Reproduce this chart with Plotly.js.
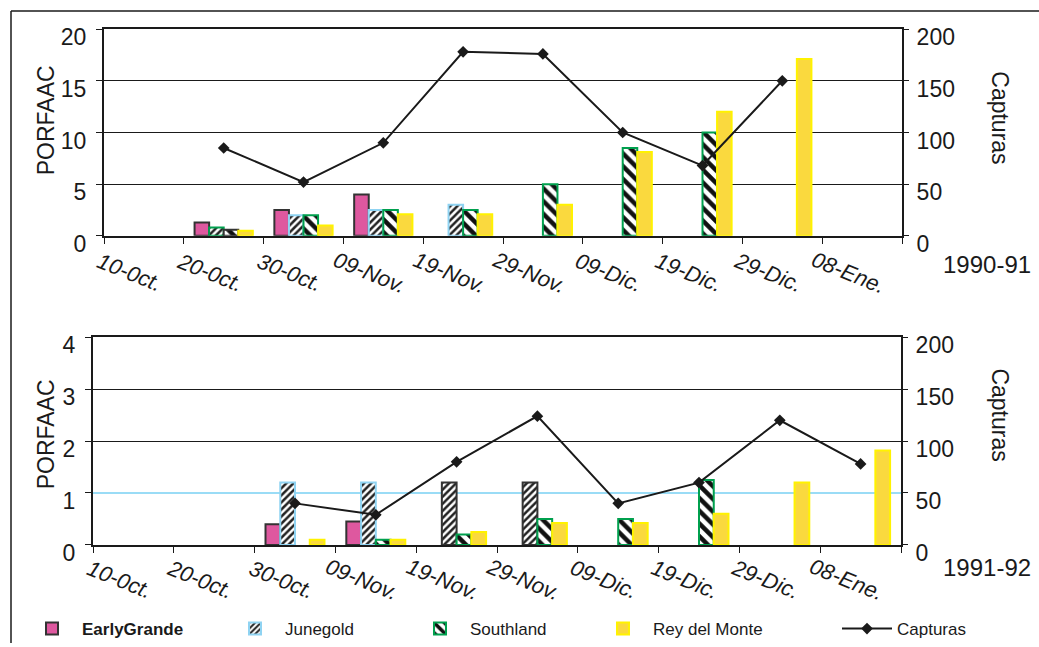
<!DOCTYPE html>
<html>
<head>
<meta charset="utf-8">
<script src="https://cdn.plot.ly/plotly-3.0.1.min.js"></script>
<style>html,body{margin:0;padding:0;background:#fff;}#chart{width:1039px;height:647px;}</style>
</head>
<body>
<div id="chart"></div>
<script>
// ---- data ----
const categories = ['10-0ct.','20-0ct.','30-0ct.','09-Nov.','19-Nov.','29-Nov.','09-Dic.','19-Dic.','29-Dic.','08-Ene.'];
const seriesNames = ['EarlyGrande','Junegold','Southland','Rey del Monte','Capturas'];

// 1990-91 (PORFAAC)
const earlyGrande9091 = [null, 1.3, 2.5, 4.0, null, null, null, null, null, null];
const junegold9091    = [null, 0.8, 2.0, 2.5, 3.0, null, null, null, null, null];
const southland9091   = [null, 0.6, 2.0, 2.5, 2.5, 5.0, 8.5, 10.0, null, null];
const reyMonte9091    = [null, 0.5, 1.0, 2.1, 2.1, 3.0, 8.1, 12.0, 17.1, null];
const capturas9091    = [null, 85, 52, 90, 178, 176, 100, 68, 150, null];

// 1991-92 (PORFAAC)
const earlyGrande9192 = [null, null, 0.4, 0.45, null, null, null, null, null, null];
const junegold9192    = [null, null, 1.2, 1.2, 1.2, 1.2, null, null, null, null];
const southland9192   = [null, null, null, 0.1, 0.2, 0.5, 0.5, 1.25, null, null];
const reyMonte9192    = [null, null, 0.1, 0.1, 0.25, 0.42, 0.42, 0.6, 1.2, 1.82];
const capturas9192    = [null, null, 40, 29, 80, 124, 40, 60, 120, 78];

const leftTicks1 = [0, 5, 10, 15, 20];
const leftTicks2 = [0, 1, 2, 3, 4];
const rightTicks = [0, 50, 100, 150, 200];
const seasonLabels = ['1990-91', '1991-92'];

// ---- styles ----
const FONT = 'Arial, "Liberation Sans", sans-serif';
const INK = '#1a1a1a';
const C_EG = '#DE589F', C_EG_LINE = '#333333';
const C_JG_LINE = '#8FD3F2';
const C_SL_LINE = '#00A04E';
const C_RM = '#FAD93E', C_RM_LINE = '#FFF200';

// per-bar border quirks seen in the picture
const jgLine1 = categories.map((c, i) => i === 1 ? C_SL_LINE : C_JG_LINE);
const slLine1 = categories.map((c, i) => i === 1 ? '#333333' : C_SL_LINE);
const jgLine2 = categories.map((c, i) => (i === 4 || i === 5) ? '#333333' : C_JG_LINE);

function egTrace(y, xa, ya, show) {
  return {type: 'bar', name: '<b>' + seriesNames[0] + '</b>', x: categories, y: y, xaxis: xa, yaxis: ya,
    marker: {color: C_EG, line: {color: C_EG_LINE, width: 2}}, showlegend: show, legend: 'legend', hoverinfo: 'y'};
}
function jgTrace(y, xa, ya, show, lc) {
  return {type: 'bar', name: seriesNames[1], x: categories, y: y, xaxis: xa, yaxis: ya,
    marker: {color: '#ffffff', line: {color: lc, width: 2},
      pattern: {shape: '/', fgcolor: '#222222', bgcolor: '#ffffff', size: 5, solidity: 0.5}},
    showlegend: show, legend: 'legend2', hoverinfo: 'y'};
}
function slTrace(y, xa, ya, show, lc) {
  return {type: 'bar', name: seriesNames[2], x: categories, y: y, xaxis: xa, yaxis: ya,
    marker: {color: '#ffffff', line: {color: lc, width: 2},
      pattern: {shape: '\\', fgcolor: '#111111', bgcolor: '#ffffff', size: 9, solidity: 0.5}},
    showlegend: show, legend: 'legend3', hoverinfo: 'y'};
}
function rmTrace(y, xa, ya, show) {
  return {type: 'bar', name: seriesNames[3], x: categories, y: y, xaxis: xa, yaxis: ya,
    marker: {color: C_RM, line: {color: C_RM_LINE, width: 2}}, showlegend: show, legend: 'legend4', hoverinfo: 'y'};
}
function capTrace(y, xa, ya, show) {
  return {type: 'scatter', mode: 'lines+markers', name: seriesNames[4], x: categories, y: y, xaxis: xa, yaxis: ya,
    line: {color: INK, width: 2}, marker: {symbol: 'diamond', size: 9, color: INK},
    connectgaps: false, showlegend: show, legend: 'legend5', hoverinfo: 'y'};
}

const traces = [
  egTrace(earlyGrande9091, 'x', 'y', true),
  jgTrace(junegold9091, 'x', 'y', true, jgLine1),
  slTrace(southland9091, 'x', 'y', true, slLine1),
  rmTrace(reyMonte9091, 'x', 'y', true),
  capTrace(capturas9091, 'x', 'y2', true),
  egTrace(earlyGrande9192, 'x2', 'y3', false),
  jgTrace(junegold9192, 'x2', 'y3', false, jgLine2),
  slTrace(southland9192, 'x2', 'y3', false, C_SL_LINE),
  rmTrace(reyMonte9192, 'x2', 'y3', false),
  capTrace(capturas9192, 'x2', 'y4', false)
];

const W = 1039, H = 647;
const px = v => v / W;
const py = v => (H - v) / H;

const tickFont = {family: FONT, size: 23, color: INK};

function xAxis(dom, anchor) {
  return {domain: dom, anchor: anchor, type: 'category', categoryorder: 'array', categoryarray: categories,
    range: [-0.5, categories.length - 0.5], tickson: 'boundaries', ticks: 'outside', ticklen: 6, tickwidth: 1,
    tickcolor: INK, showticklabels: false, showline: true, mirror: true, linecolor: INK, linewidth: 2,
    showgrid: false, zeroline: false, fixedrange: true};
}
function yLeft(dom, anchor, tv, max) {
  return {domain: dom, anchor: anchor, range: [0, max], tickvals: tv, ticktext: tv.map(String),
    ticks: 'outside', ticklen: 6, tickwidth: 1, tickcolor: INK, showline: true, linecolor: INK, linewidth: 2,
    showgrid: true, gridcolor: INK, gridwidth: 1, zeroline: false, tickfont: tickFont,
    ticklabelstandoff: 5, ticklabelshift: 8, fixedrange: true};
}
function yRight(overlay, anchor) {
  return {overlaying: overlay, anchor: anchor, side: 'right', range: [0, 200], tickvals: rightTicks,
    ticktext: rightTicks.map(String), ticks: 'outside', ticklen: 5, tickwidth: 1, tickcolor: INK,
    showline: true, linecolor: INK, linewidth: 2, showgrid: false, zeroline: false, tickfont: tickFont,
    ticklabelstandoff: 3, ticklabelshift: 8, fixedrange: true};
}

const annotations = [];
function addXLabels(xref, ypix) {
  categories.forEach(c => annotations.push({xref: xref, yref: 'paper', x: c, y: py(ypix), xanchor: 'center',
    yanchor: 'middle', xshift: -14, text: c, textangle: 22, showarrow: false,
    font: {family: FONT, size: 22, color: INK, style: 'italic'}}));
}
addXLabels('x', 274);
addXLabels('x2', 583);
annotations.push({xref: 'paper', yref: 'paper', x: px(987), y: py(266), text: seasonLabels[0], showarrow: false,
  xanchor: 'center', yanchor: 'middle', font: {family: FONT, size: 24, color: INK}});
annotations.push({xref: 'paper', yref: 'paper', x: px(987), y: py(571), text: seasonLabels[1], showarrow: false,
  xanchor: 'center', yanchor: 'middle', font: {family: FONT, size: 24, color: INK}});
[[121, 'PORFAAC', -90, 46], [437, 'PORFAAC', -90, 46], [118, 'Capturas', 90, 1000], [417, 'Capturas', 90, 1000]]
  .forEach(a => annotations.push({xref: 'paper', yref: 'paper', x: px(a[3]), y: py(a[0]), text: a[1],
    textangle: a[2], showarrow: false, xanchor: 'center', yanchor: 'middle',
    font: {family: FONT, size: 23, color: INK}}));

const legFont = {family: FONT, size: 17, color: INK};
function leg(xpix) {
  return {x: px(xpix), y: py(633), xanchor: 'left', yanchor: 'middle', orientation: 'h', font: legFont,
    bgcolor: 'rgba(0,0,0,0)', borderwidth: 0, itemwidth: 50, itemclick: false, itemdoubleclick: false};
}

const layout = {
  width: W, height: H, margin: {l: 0, r: 0, t: 0, b: 0}, paper_bgcolor: '#fff', plot_bgcolor: '#fff',
  font: {family: FONT, color: INK},
  barmode: 'group', bargap: 0.27, bargroupgap: 0,
  xaxis: xAxis([px(104), px(902)], 'y'),
  yaxis: yLeft([py(237.3), py(29.3)], 'x', leftTicks1, 20),
  yaxis2: yRight('y', 'x'),
  xaxis2: xAxis([px(93), px(901)], 'y3'),
  yaxis3: yLeft([py(548.3), py(339.3)], 'x2', leftTicks2, 4),
  yaxis4: yRight('y3', 'x2'),
  legend: leg(22), legend2: leg(225), legend3: leg(410), legend4: leg(593), legend5: leg(837),
  annotations: annotations,
  shapes: [
    {type: 'line', xref: 'x2 domain', yref: 'y3', x0: 0, x1: 1, y0: 1, y1: 1, line: {color: '#9ADCF6', width: 2}, layer: 'below'},
    {type: 'line', xref: 'paper', yref: 'paper', x0: px(11), x1: 1, y0: py(11), y1: py(11), line: {color: INK, width: 1.5}},
    {type: 'line', xref: 'paper', yref: 'paper', x0: px(11), x1: px(11), y0: py(11), y1: 0, line: {color: INK, width: 1.5}}
  ]
};

Plotly.newPlot('chart', traces, layout, {displayModeBar: false, staticPlot: true}).then(() => {
  // keep the y=1 line of the lower panel light blue: hide the dark gridline under it
  document.querySelectorAll('.y3grid path, path.y3grid').forEach(p => {
    const d = p.getAttribute('d') || '';
    const t = p.getAttribute('transform') || '';
    const m = t.match(/translate\(0,\s*([\d.]+)\)/);
    if (m && Math.abs(parseFloat(m[1]) - 495.9) < 3) p.style.strokeOpacity = 0;
  });
});
</script>
</body>
</html>
